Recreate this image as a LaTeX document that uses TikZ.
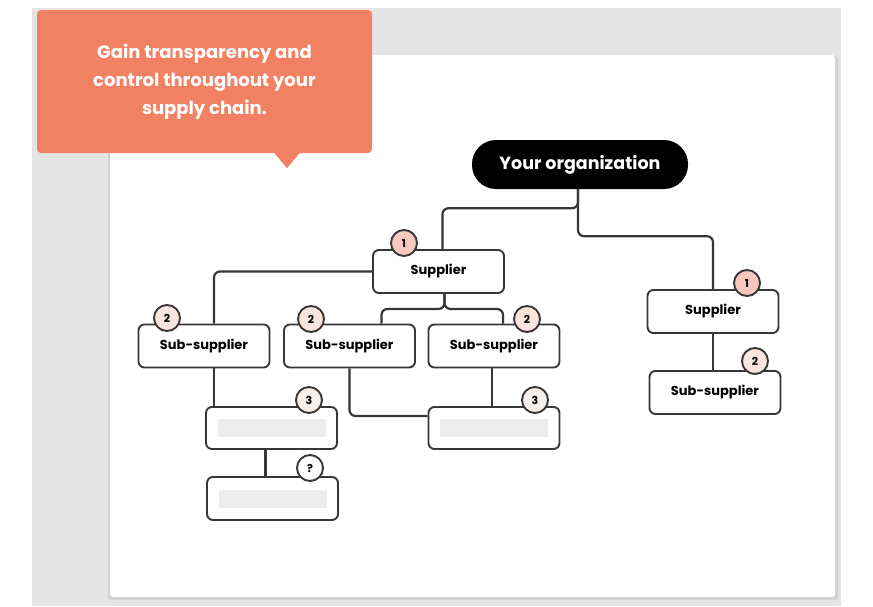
\documentclass[tikz,border=0pt]{standalone}
\usepackage{fontspec}
\setmainfont{Poppins}
\definecolor{pagegray}{RGB}{228,228,228}
\definecolor{shadowgray}{RGB}{210,210,210}
\definecolor{callout}{RGB}{242,128,98}
\definecolor{boxline}{RGB}{55,55,55}
\definecolor{badgeone}{RGB}{246,200,190}
\definecolor{badgetwo}{RGB}{250,228,222}
\definecolor{badgethree}{RGB}{245,238,235}
\definecolor{bargray}{RGB}{236,236,236}
\begin{document}
\begin{tikzpicture}[x=1pt, y=-1pt,
    box/.style = {draw=boxline, line width=1.9pt, fill=white, rounded corners=6pt, minimum width=131pt, minimum height=43pt, font=\bfseries\fontsize{13}{15}\selectfont},
    badge/.style = {draw=boxline, circle, line width=1.9pt, minimum size=26pt, inner sep=0pt, font=\bfseries\fontsize{11}{13}\selectfont},
    bar/.style = {fill=bargray, minimum width=108pt, minimum height=18pt, inner sep=0pt},
    link/.style = {draw=boxline, line width=2.2pt, rounded corners=6pt}]
    \useasboundingbox (0,0) rectangle (873,606);
    \fill[pagegray] (32,8) rectangle (841,606);
    \fill[shadowgray, rounded corners=3pt] (108,56) rectangle (838,600);
    \fill[white, rounded corners=3pt] (110,55) rectangle (835,597);

    \node[fill=callout, rounded corners=4pt, minimum width=335pt, minimum height=143pt, text=white, align=center, font=\bfseries\fontsize{18}{28}\selectfont] (goal) at (204.5,81.5) {Gain transparency and\\control throughout your\\supply chain.};
    \fill[callout] ([xshift=70pt]goal.south) -- ++(12.5,15) -- ++(12.5,-15) -- cycle;

    \node[fill=black, text=white, rounded corners=24pt, minimum width=216pt, minimum height=49pt, font=\bfseries\fontsize{17.5}{20}\selectfont] (org) at (580,164.5) {Your organization};

    \node[box] (sup1) at (438.5,271.5) {Supplier};
    \node[box] (sub1) at (204,346) {Sub-supplier};
    \node[box] (sub2) at (349.5,346) {Sub-supplier};
    \node[box] (sub3) at (494,346) {Sub-supplier};
    \node[box, minimum height=42pt] (tier3a) at (271.5,428) {};
    \node[box, minimum height=42pt] (tier3b) at (494,428) {};
    \node[box] (tierq) at (272.5,498.5) {};
    \node[box] (supR) at (713,311.5) {Supplier};
    \node[box] (subR) at (715,392.5) {Sub-supplier};

    \node[bar] at (tier3a) {};
    \node[bar] at (tier3b) {};
    \node[bar] at (tierq) {};

    \draw[link] ([xshift=-2pt]org.south) -- ++(0,19) -| ([xshift=4pt]sup1.north);
    \draw[link] ([xshift=-2pt]org.south) -- ++(0,47) -| (supR.north);
    \draw[link] (sup1.west) -| ([xshift=10pt]sub1.north);
    \draw[link] ([xshift=6pt]sup1.south) -- ++(0,15) -| ([xshift=32pt]sub2.north);
    \draw[link] ([xshift=6pt]sup1.south) -- ++(0,15) -| ([xshift=9pt]sub3.north);
    \draw[link] ([xshift=10pt]sub1.south) -- ([xshift=10pt]sub1.south |- tier3a.north);
    \draw[link] (sub2.south) |- ([yshift=12pt]tier3b.west);
    \draw[link] ([xshift=-2pt]sub3.south) -- ([xshift=-2pt]sub3.south |- tier3b.north);
    \draw[link] ([xshift=-6pt]tier3a.south) -- ([xshift=-6pt]tier3a.south |- tierq.north);
    \draw[link] (supR.south) -- (supR.south |- subR.north);

    \node[badge, fill=badgeone] (n1) at (404,243) {1};
    \node[badge, fill=badgetwo] (n2a) at (167,318) {2};
    \node[badge, fill=badgetwo] (n2b) at (311,319) {2};
    \node[badge, fill=badgetwo] (n2c) at (527,319) {2};
    \node[badge, fill=badgethree] (n3a) at (309,400) {3};
    \node[badge, fill=badgethree] (n3b) at (535,400) {3};
    \node[badge, fill=white] (nq) at (310,468) {?};
    \node[badge, fill=badgeone] (n1r) at (747,283) {1};
    \node[badge, fill=badgetwo] (n2r) at (755,361) {2};

\end{tikzpicture}
\end{document}
